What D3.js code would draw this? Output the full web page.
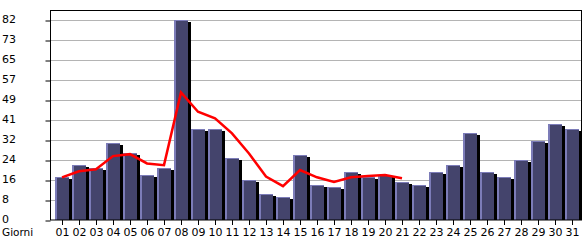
<!DOCTYPE html>
<html>
<head>
<meta charset="utf-8">
<script src="https://cdn.jsdelivr.net/npm/d3@7"></script>
<style>
body { margin: 0; background: #fff; }
svg { display: block; font-family: "DejaVu Sans", Verdana, sans-serif; }
</style>
</head>
<body>
<svg width="585" height="240"></svg>
<script>
// daily visits
var days = ["01","02","03","04","05","06","07","08","09","10","11","12","13","14","15","16",
            "17","18","19","20","21","22","23","24","25","26","27","28","29","30","31"];
var visits = [17.5, 22.5, 21.5, 31.5, 27.5, 18.5, 21.5, 82, 37.5, 37.5, 25.5, 16.5, 10.5, 9.5, 26.5, 14.5,
              13.5, 19.5, 17.5, 18.5, 15.5, 14.5, 19.5, 22.5, 35.5, 19.5, 17.5, 24.5, 32.5, 39.5, 37.5];
// trend line (only first 21 days)
var trend = [17.5, 20, 20.8, 26.2, 27, 23.2, 22.5, 52.3, 44.4, 41.7, 35.5, 27.3, 17.8, 13.9,
             20.5, 17.5, 15.6, 17.5, 18, 18.4, 17.1];
var yTicks = [0, 8.2, 16.4, 24.6, 32.8, 41, 49.2, 57.4, 65.6, 73.8, 82];
var yTickLabels = ["0","8","16","24","32","41","49","57","65","73","82"];
var xTitle = "Giorni";

var svg = d3.select("svg");

var x = d3.scaleBand().domain(days).range([55, 582]).padding(0);
var y = d3.scaleLinear().domain([0, 82]).range([220, 20]);

var bodyW = x.bandwidth() - 3;

// gridlines
svg.append("g").selectAll("line")
    .data(yTicks.slice(1))
    .enter().append("line")
    .attr("x1", 50).attr("x2", 582)
    .attr("y1", function(d) { return Math.round(y(d)) + 0.5; })
    .attr("y2", function(d) { return Math.round(y(d)) + 0.5; })
    .style("stroke", "#b4b4b4");

// bars
var bars = svg.append("g").selectAll("g")
    .data(visits)
    .enter().append("g")
    .attr("transform", function(d, i) { return "translate(" + x(days[i]) + ",0)"; });

bars.append("rect") // shadow
    .attr("x", bodyW).attr("width", 3)
    .attr("y", function(d) { return Math.round(y(d)) + 2; })
    .attr("height", function(d) { return 220 - Math.round(y(d)) - 2; })
    .style("fill", "#000");
bars.append("rect") // light edge
    .attr("x", 0).attr("width", bodyW)
    .attr("y", function(d) { return Math.round(y(d)); })
    .attr("height", function(d) { return 220 - Math.round(y(d)); })
    .style("fill", "#7c7cb8");
bars.append("rect") // body
    .attr("x", 2).attr("width", bodyW - 2)
    .attr("y", function(d) { return Math.round(y(d)) + 1; })
    .attr("height", function(d) { return 220 - Math.round(y(d)) - 1; })
    .style("fill", "#44446c");

// trend line
var line = d3.line()
    .x(function(d, i) { return x(days[i]) + bodyW / 2; })
    .y(function(d) { return y(d); });
svg.append("path")
    .datum(trend)
    .attr("d", line)
    .style("fill", "none")
    .style("stroke", "#ff0000")
    .style("stroke-width", 2.5);

// frame
svg.append("rect")
    .attr("x", 50.5).attr("y", 10.5)
    .attr("width", 531).attr("height", 209.5)
    .style("fill", "none").style("stroke", "#000");

// y axis
var yAxis = svg.append("g")
    .attr("transform", "translate(50.5,0.5)")
    .call(d3.axisLeft(y).tickValues(yTicks).tickSize(5).tickFormat(""));
yAxis.select(".domain").remove();
yAxis.selectAll("line").style("stroke", "#000");
yAxis.selectAll("line").attr("transform", function(d) { return "translate(0," + (Math.round(y(d)) - y(d)) + ")"; });

svg.append("g").selectAll("text")
    .data(yTicks)
    .enter().append("text")
    .attr("x", 2)
    .attr("y", function(d) { return Math.round(y(d)) + 3; })
    .style("font-size", "11px")
    .text(function(d, i) { return yTickLabels[i]; });

// x axis
var xAxis = svg.append("g")
    .attr("transform", "translate(" + (-x.bandwidth() / 2 + bodyW / 2 + 0.5) + ",220)")
    .call(d3.axisBottom(x).tickSize(5).tickSizeOuter(0));
xAxis.select(".domain").remove();
xAxis.selectAll("line").style("stroke", "#000");
xAxis.selectAll("text")
    .attr("y", 8)
    .style("font-family", "DejaVu Sans")
    .style("font-size", "11px")
    .style("fill", "#000");

svg.append("text")
    .attr("x", 2).attr("y", 236)
    .style("font-size", "10.5px")
    .text(xTitle);
</script>
</body>
</html>
